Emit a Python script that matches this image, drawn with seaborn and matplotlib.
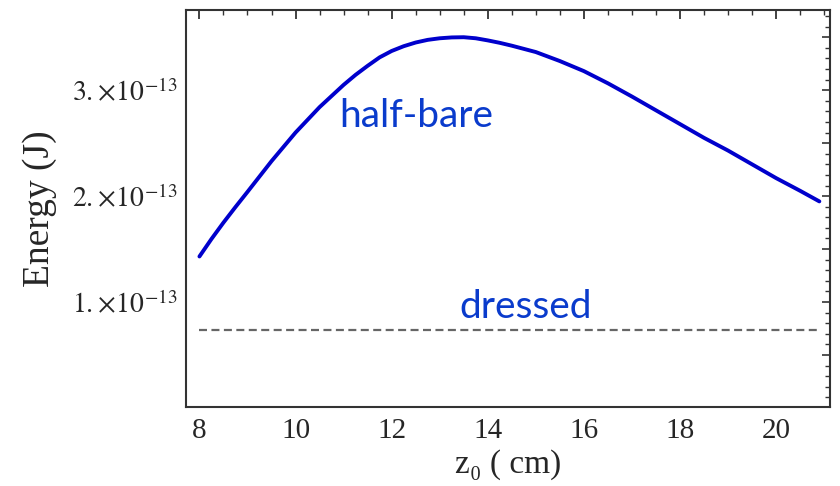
import matplotlib
matplotlib.use("Agg")
import matplotlib.pyplot as plt
import seaborn as sns
import pandas as pd
from matplotlib.ticker import MultipleLocator, FixedLocator, FuncFormatter

# values (energy in units of 1e-13 J)
z0_cm = [8.0, 8.25, 8.5, 8.75, 9.0, 9.5, 10.0, 10.5, 11.0, 11.25, 11.5, 11.75,
         12.0, 12.25, 12.5, 12.75, 13.0, 13.25, 13.5, 13.75, 14.0, 14.25,
         14.5, 15.0, 15.5, 16.0, 16.5, 17.0, 17.5, 18.0, 18.5, 19.0, 19.5,
         20.0, 20.5, 20.9]
half_bare = [1.43, 1.595, 1.75, 1.897, 2.04, 2.33, 2.60, 2.84, 3.05, 3.145,
             3.23, 3.31, 3.37, 3.415, 3.45, 3.475, 3.49, 3.498, 3.50, 3.49,
             3.47, 3.447, 3.42, 3.36, 3.275, 3.18, 3.065, 2.94, 2.81, 2.68,
             2.55, 2.43, 2.30, 2.17, 2.05, 1.95]
half_bare = [v * 1e-13 for v in half_bare]
dressed_z = [8.0, 20.9]
dressed = [0.735e-13, 0.735e-13]
y_ticks = [1e-13, 2e-13, 3e-13]
x_ticks = [8, 10, 12, 14, 16, 18, 20]

df_bare = pd.DataFrame({"z0": z0_cm, "E": half_bare})
df_dressed = pd.DataFrame({"z0": dressed_z, "E": dressed})

sns.set_style("white")
plt.rcParams["font.family"] = ["Liberation Serif", "DejaVu Serif"]
plt.rcParams["mathtext.fontset"] = "stix"

fig = plt.figure(figsize=(8.4, 4.86), dpi=100)
ax = fig.add_axes([0.2214, 0.1632, 0.7666, 0.8158])

sns.lineplot(data=df_bare, x="z0", y="E", color="#0000cc", linewidth=2.8, ax=ax)
sns.lineplot(data=df_dressed, x="z0", y="E", color="#666666", linewidth=1.6,
             linestyle=(0, (3.6, 2.0)), ax=ax)

ax.set_xlim(7.72, 21.12)
ax.set_ylim(0.012e-13, 3.755e-13)

ax.xaxis.set_major_locator(FixedLocator(x_ticks))
ax.xaxis.set_minor_locator(MultipleLocator(0.5))
ax.yaxis.set_major_locator(FixedLocator(y_ticks))

def fmt(v, pos):
    return r"$%d.\!\times\!10^{-13}$" % round(v / 1e-13)

ax.yaxis.set_major_formatter(FuncFormatter(fmt))

ax.tick_params(axis="x", which="major", direction="in", length=6.5, width=1.3,
               color="#333333", labelsize=21, pad=8, top=True)
ax.tick_params(axis="x", which="minor", direction="in", length=3.6, width=1.0,
               color="#333333", top=True)
ax.tick_params(axis="y", which="major", direction="in", length=6, width=1.3,
               color="#333333", labelsize=20, pad=6)

# right side ticks (major every 0.5, minor every 0.1)
ax2 = ax.secondary_yaxis("right")
ax2.yaxis.set_major_locator(MultipleLocator(0.5e-13))
ax2.yaxis.set_minor_locator(MultipleLocator(0.1e-13))
ax2.tick_params(which="major", direction="in", length=6, width=1.2,
                color="#333333", labelright=False)
ax2.tick_params(which="minor", direction="in", length=3.6, width=1.0,
                color="#333333")
ax2.spines["right"].set_visible(False)

for s in ax.spines.values():
    s.set_color("#333333")
    s.set_linewidth(1.5)

ax.set_xlabel("z\u2080 ( cm)", fontsize=24, labelpad=4)
ax.set_ylabel("Energy (J)", fontsize=27, labelpad=11)

ax.text(10.91, 2.65e-13, "half-bare", color="#0a3bcc", fontsize=28,
        family=["Lato", "DejaVu Sans"], va="baseline", ha="left")
ax.text(13.4, 0.85e-13, "dressed", color="#0a3bcc", fontsize=28,
        family=["Lato", "DejaVu Sans"], va="baseline", ha="left")

fig.savefig("out.png", dpi=100)
